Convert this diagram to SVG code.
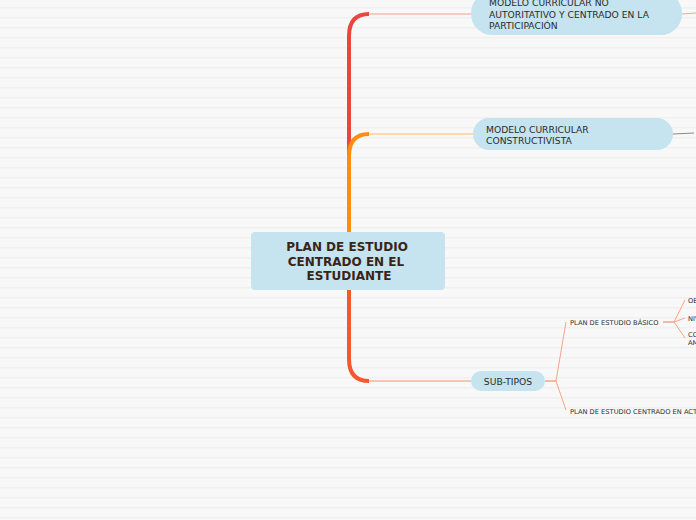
<svg xmlns="http://www.w3.org/2000/svg" width="696" height="520" viewBox="0 0 696 520">
<defs>
<pattern id="bgl" x="0" y="0" width="696" height="10" patternUnits="userSpaceOnUse">
<rect x="0" y="0" width="696" height="10" fill="#f8f8f8"/>
<rect x="0" y="7" width="696" height="1.5" fill="#f0f0f0"/>
</pattern>
<style>
.node{fill:#c5e4ef;}
.t{font-family:"DejaVu Sans",Verdana,sans-serif;font-size:9.2px;fill:#2b2b2b;}
.s{font-family:"DejaVu Sans",Verdana,sans-serif;font-size:6.7px;fill:#2b2b2b;}
.c{font-family:"DejaVu Sans",Verdana,sans-serif;font-size:12px;font-weight:bold;fill:#3a2418;}
.thin{fill:none;stroke-width:1;}
</style>
</defs>
<rect width="696" height="520" fill="url(#bgl)"/>
<g id="connectors">
<path d="M349,160 L349,36 Q349,14 369,14" fill="none" stroke="#e9473d" stroke-width="4"/>
<path d="M369,14 L472,14" class="thin" stroke="#f29a90"/>
<path d="M682,14 L696,13" class="thin" stroke="#f2a8a0" stroke-width="1.5"/>
<path d="M349,232 L349,156 Q349,134 369,134" fill="none" stroke="#ff8c12" stroke-width="4"/>
<path d="M369,134 L474,134" class="thin" stroke="#ffbd5c"/>
<path d="M673,134 L694,133" class="thin" stroke="#8a8a8a"/>
<path d="M349,290 L349,359 Q349,381 369,381" fill="none" stroke="#f2592f" stroke-width="4"/>
<path d="M369,381 L472,381" class="thin" stroke="#f5906e"/>
<path d="M545,381 L556,381" class="thin" stroke="#f5764d" stroke-width="1.5"/>
<path d="M556,381 L566,322" class="thin" stroke="#f7a488"/>
<path d="M556,381 L566,410" class="thin" stroke="#f7a488"/>
<path d="M663,322 L674,322" class="thin" stroke="#f5764d" stroke-width="1.5"/>
<path d="M674,322 L685,300" class="thin" stroke="#f7a488"/>
<path d="M674,322 L685,318" class="thin" stroke="#f7a488"/>
<path d="M674,322 L685,338" class="thin" stroke="#f7a488"/>
</g>
<g id="central">
<rect class="node" x="251" y="232" width="194" height="58" rx="4"/>
<text class="c" x="347" y="251" text-anchor="middle">PLAN DE ESTUDIO</text>
<text class="c" x="346" y="266" text-anchor="middle">CENTRADO EN EL</text>
<text class="c" x="349" y="280" text-anchor="middle">ESTUDIANTE</text>
</g>
<g id="n1">
<rect class="node" x="471" y="-8" width="211" height="43" rx="21"/>
<text class="t" x="489" y="6">MODELO CURRICULAR NO</text>
<text class="t" x="489" y="18">AUTORITATIVO Y CENTRADO EN LA</text>
<text class="t" x="489" y="29">PARTICIPACIÓN</text>
</g>
<g id="n2">
<rect class="node" x="473" y="118" width="200" height="32" rx="16"/>
<text class="t" x="486" y="133">MODELO CURRICULAR</text>
<text class="t" x="486" y="144">CONSTRUCTIVISTA</text>
</g>
<g id="n3">
<rect class="node" x="471" y="371" width="74" height="20" rx="10"/>
<text class="t" x="508" y="385" text-anchor="middle">SUB-TIPOS</text>
</g>
<g id="n4">
<text class="s" x="570" y="325">PLAN DE ESTUDIO BÁSICO</text>
</g>
<g id="n5">
<text class="s" x="570" y="414">PLAN DE ESTUDIO CENTRADO EN ACTIVIDADES</text>
</g>
<g id="n6">
<text class="s" x="688" y="303">OBJETIVOS</text>
</g>
<g id="n7">
<text class="s" x="688" y="321">NIVELES</text>
</g>
<g id="n8">
<text class="s" x="688" y="337">CONTENIDOS</text>
<text class="s" x="688" y="345">AMBITOS</text>
</g>
</svg>
